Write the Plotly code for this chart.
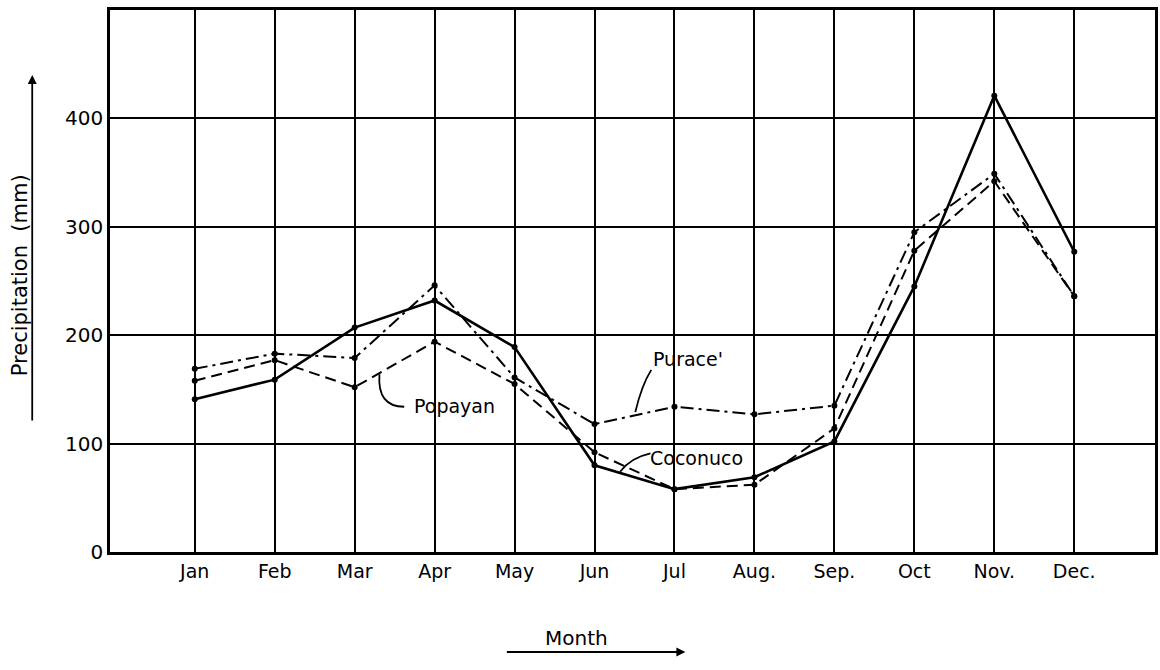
import plotly.graph_objects as go

months = ["Jan", "Feb", "Mar", "Apr", "May", "Jun", "Jul", "Aug.", "Sep.", "Oct", "Nov.", "Dec."]
coconuco = [141, 159, 207, 232, 189, 80, 58, 69, 102, 245, 421, 277]
popayan = [158, 177, 152, 194, 155, 92, 58, 62, 114, 278, 342, 236]
purace = [169, 183, 179, 246, 161, 118, 134, 127, 135, 295, 349, 236]
y_ticks = [0, 100, 200, 300, 400]

xi = list(range(len(months)))
FONT = "DejaVu Sans"

fig = go.Figure()
fig.add_trace(go.Scatter(x=xi, y=coconuco, mode="lines+markers", name="Coconuco",
                         line=dict(color="black", width=2.6),
                         marker=dict(color="black", size=6)))
fig.add_trace(go.Scatter(x=xi, y=popayan, mode="lines+markers", name="Popayan",
                         line=dict(color="black", width=2, dash="11px,6px"),
                         marker=dict(color="black", size=6)))
fig.add_trace(go.Scatter(x=xi, y=purace, mode="lines+markers", name="Purace'",
                         line=dict(color="black", width=2, dash="13px,5px,3px,5px"),
                         marker=dict(color="black", size=6)))

# labels for the series
fig.add_annotation(x=6.17, y=178, text="Purace'", showarrow=False, xref="x", yref="y",
                   font=dict(family=FONT, size=19, color="black"))
fig.add_annotation(x=3.25, y=135, text="Popayan", showarrow=False, xref="x", yref="y",
                   font=dict(family=FONT, size=19, color="black"))
fig.add_annotation(x=6.28, y=87, text="Coconuco", showarrow=False, xref="x", yref="y",
                   font=dict(family=FONT, size=19, color="black"))

# leader lines (decorative curves)
fig.add_shape(type="path", xref="x", yref="y", path="M 5.71,168 Q 5.59,154 5.51,129",
              line=dict(color="black", width=1.8))
fig.add_shape(type="path", xref="x", yref="y", path="M 2.31,164 Q 2.28,134 2.62,134",
              line=dict(color="black", width=1.8))
fig.add_shape(type="path", xref="x", yref="y", path="M 5.70,91 Q 5.45,87 5.32,74",
              line=dict(color="black", width=1.8))

# axis titles with arrows
fig.add_annotation(xref="paper", yref="paper", x=(32 - 110) / 1048, y=(552 - 75) / 542, text="",
                   showarrow=True, arrowhead=2, arrowsize=1, arrowwidth=1.8, arrowcolor="black",
                   ax=0, ay=347)
fig.add_annotation(xref="paper", yref="paper", x=(20 - 110) / 1048, y=(552 - 275) / 542,
                   text="Precipitation  (mm)", showarrow=False, textangle=-90,
                   xanchor="center", yanchor="middle",
                   font=dict(family=FONT, size=21, color="black"))
fig.add_annotation(xref="paper", yref="paper", x=(687 - 110) / 1048, y=(552 - 652) / 542, text="",
                   showarrow=True, arrowhead=2, arrowsize=1, arrowwidth=1.8, arrowcolor="black",
                   ax=-180, ay=0)
fig.add_annotation(xref="paper", yref="paper", x=(578 - 110) / 1048, y=(552 - 638) / 542,
                   text="Month", showarrow=False, xanchor="center", yanchor="middle",
                   font=dict(family=FONT, size=20, color="black"))

fig.update_xaxes(range=[-1.06, 12.01], tickvals=xi, ticktext=months,
                 showgrid=True, gridcolor="black", gridwidth=2,
                 showline=True, linecolor="black", linewidth=2.5, mirror=True,
                 zeroline=False, ticks="", tickfont=dict(family=FONT, size=19, color="black"))
fig.update_yaxes(range=[0, 500], tickvals=y_ticks, ticktext=[str(v) for v in y_ticks],
                 showgrid=True, gridcolor="black", gridwidth=2,
                 showline=True, linecolor="black", linewidth=2.5, mirror=True,
                 zeroline=False, ticks="", tickfont=dict(family=FONT, size=20, color="black"))

fig.update_layout(width=1160, height=670, margin=dict(l=110, r=2, t=10, b=118),
                  paper_bgcolor="white", plot_bgcolor="white", showlegend=False)

fig.write_html("out.html")
